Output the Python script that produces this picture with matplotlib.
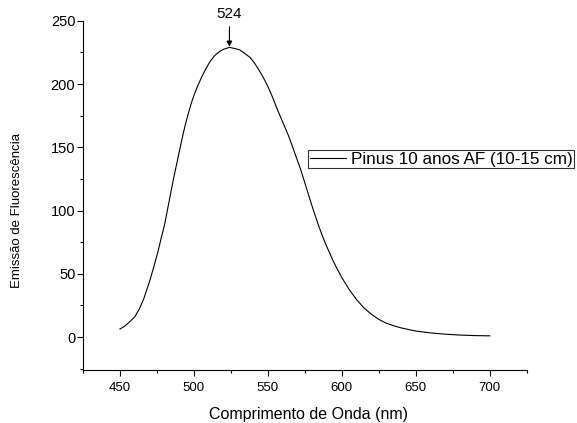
import matplotlib.pyplot as plt
from matplotlib.ticker import MultipleLocator

plt.rcParams['font.family'] = ['Liberation Sans', 'DejaVu Sans']

# Espectro de emissão
comprimento = [450, 453, 456, 460, 463, 466, 470, 473, 476, 478, 480, 482, 484,
               486, 488, 490, 492, 494, 496, 498, 500, 502, 505, 508, 511, 514,
               517, 520, 524, 528, 531, 534, 538, 541, 544, 547, 550, 553, 556,
               560, 564, 568, 572, 576, 580, 584, 587, 590, 594, 597, 600, 605,
               610, 615, 620, 625, 630, 635, 640, 645, 650, 660, 670, 680, 690,
               700]
emissao = [6.4, 8.5, 11.5, 16, 22, 30, 44, 56, 69, 79, 88, 100, 112,
           124, 135, 146, 157, 167, 176, 184, 191, 197, 205, 212, 218, 222.5,
           225.5, 227.5, 229, 228, 227, 224.5, 221, 216.5, 211, 205, 198, 190, 181,
           170, 159, 146, 133, 118, 103, 89, 79.5, 71, 60.5, 53.5, 47, 37.5,
           29.5, 23, 18, 14, 11, 9, 7.3, 6, 4.8, 3.3, 2.3, 1.6, 1.2,
           1.0]
rotulo = 'Pinus 10 anos AF (10-15 cm)'
pico = 524
pico_valor = 229.5

fig = plt.figure(figsize=(5.77, 4.23), dpi=100)
ax = fig.add_axes([0.1438, 0.1253, 0.7692, 0.8255])

ax.plot(comprimento, emissao, color='black', linewidth=0.8, label=rotulo)

ax.set_xlim(425, 725)
ax.set_ylim(-26, 250)
ax.xaxis.set_major_locator(MultipleLocator(50))
ax.xaxis.set_minor_locator(MultipleLocator(25))
ax.yaxis.set_major_locator(MultipleLocator(50))
ax.yaxis.set_minor_locator(MultipleLocator(25))
ax.tick_params(which='major', direction='out', length=4, width=0.8)
ax.tick_params(which='minor', direction='out', length=2.5, width=0.8)
ax.tick_params(axis='x', which='major', labelsize=9.5, pad=5)
ax.tick_params(axis='y', which='major', labelsize=10.5, pad=1.5)

ax.spines['top'].set_visible(False)
ax.spines['right'].set_visible(False)

ax.set_xlabel('Comprimento de Onda (nm)', fontsize=11.5)
ax.set_ylabel('Emissão de Fluorescência', fontsize=9.5)
ax.xaxis.set_label_coords(0.508, -0.106)
ax.yaxis.set_label_coords(-0.135, 0.458)

# Seta indicando o pico
ax.annotate(str(pico), xy=(pico, pico_valor), xytext=(pico, 250.2),
            textcoords='data', ha='center', va='bottom', fontsize=11,
            annotation_clip=False,
            arrowprops=dict(arrowstyle='-|>', color='black', lw=0.8,
                            mutation_scale=8, shrinkA=2.5, shrinkB=0))

leg = ax.legend(loc='upper left', bbox_to_anchor=(0.5338, 0.6454),
                bbox_transform=fig.transFigure, fontsize=12.3, fancybox=False,
                frameon=True, handlelength=2.1, borderpad=0.1,
                borderaxespad=0, handletextpad=0.3)
leg.get_frame().set_edgecolor('black')
leg.get_frame().set_linewidth(0.8)

fig.savefig('out.png', dpi=100)
